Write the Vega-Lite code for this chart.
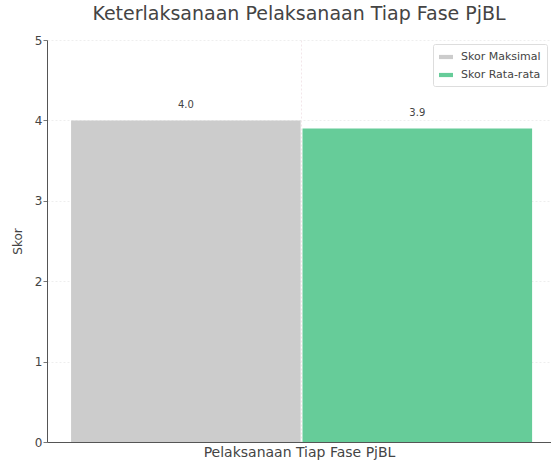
{
  "$schema": "https://vega.github.io/schema/vega-lite/v6.json",
  "width": 504,
  "height": 402,
  "autosize": "none",
  "padding": {"left": 47, "top": 40, "right": 0, "bottom": 18},
  "background": "white",
  "title": {
    "text": "Keterlaksanaan Pelaksanaan Tiap Fase PjBL",
    "font": "DejaVu Sans",
    "fontSize": 19,
    "fontWeight": "normal",
    "color": "#444444",
    "anchor": "middle",
    "offset": 10
  },
  "config": {
    "font": "DejaVu Sans",
    "view": {"stroke": null}
  },
  "data": {
    "values": [
      {"fase": "Pelaksanaan Tiap Fase PjBL", "seri": "Skor Maksimal", "skor": 4.0},
      {"fase": "Pelaksanaan Tiap Fase PjBL", "seri": "Skor Rata-rata", "skor": 3.9}
    ]
  },
  "encoding": {
    "x": {
      "field": "fase",
      "type": "nominal",
      "scale": {"paddingInner": 0, "paddingOuter": 0.0466, "align": 0.56},
      "axis": {
        "title": "Pelaksanaan Tiap Fase PjBL",
        "titleFont": "DejaVu Sans",
        "titleFontSize": 14,
        "titleFontWeight": "normal",
        "titleColor": "#444444",
        "titlePadding": 3,
        "labels": false,
        "ticks": false,
        "domainColor": "#555555",
        "grid": true,
        "gridColor": "#f3e6ea",
        "gridDash": [2, 2]
      }
    },
    "xOffset": {
      "field": "seri",
      "type": "nominal",
      "sort": ["Skor Maksimal", "Skor Rata-rata"],
      "scale": {"paddingInner": 0.008, "paddingOuter": 0}
    },
    "y": {
      "field": "skor",
      "type": "quantitative",
      "scale": {"domain": [0, 5], "nice": false, "zero": true},
      "axis": {
        "title": "Skor",
        "titleFont": "DejaVu Sans",
        "titleFontSize": 12,
        "titleFontWeight": "normal",
        "titleColor": "#444444",
        "titlePadding": 10,
        "values": [0, 1, 2, 3, 4, 5],
        "format": "d",
        "labelFont": "DejaVu Sans",
        "labelFontSize": 12,
        "labelColor": "#444444",
        "labelPadding": 1,
        "tickSize": 4,
        "tickColor": "#777777",
        "domainColor": "#555555",
        "grid": true,
        "gridColor": "#eeeeee",
        "gridDash": [2, 2]
      }
    }
  },
  "layer": [
    {
      "mark": {"type": "bar"},
      "encoding": {
        "color": {
          "field": "seri",
          "type": "nominal",
          "sort": ["Skor Maksimal", "Skor Rata-rata"],
          "scale": {"domain": ["Skor Maksimal", "Skor Rata-rata"], "range": ["#cccccc", "#66cc99"]},
          "legend": {
            "title": null,
            "orient": "top-right",
            "offset": 4,
            "fillColor": "white",
            "strokeColor": "#dddddd",
            "padding": 6,
            "cornerRadius": 2,
            "labelFont": "DejaVu Sans",
            "labelFontSize": 11,
            "labelColor": "#444444",
            "symbolType": "M-1,-0.3H1V0.3H-1Z",
            "symbolSize": 196,
            "symbolStrokeWidth": 0,
            "rowPadding": 6,
            "labelOffset": 8
          }
        }
      }
    },
    {
      "mark": {"type": "text", "dy": -15, "fontSize": 10, "color": "#444444", "font": "DejaVu Sans"},
      "encoding": {
        "text": {"field": "skor", "type": "quantitative", "format": ".1f"}
      }
    }
  ]
}
